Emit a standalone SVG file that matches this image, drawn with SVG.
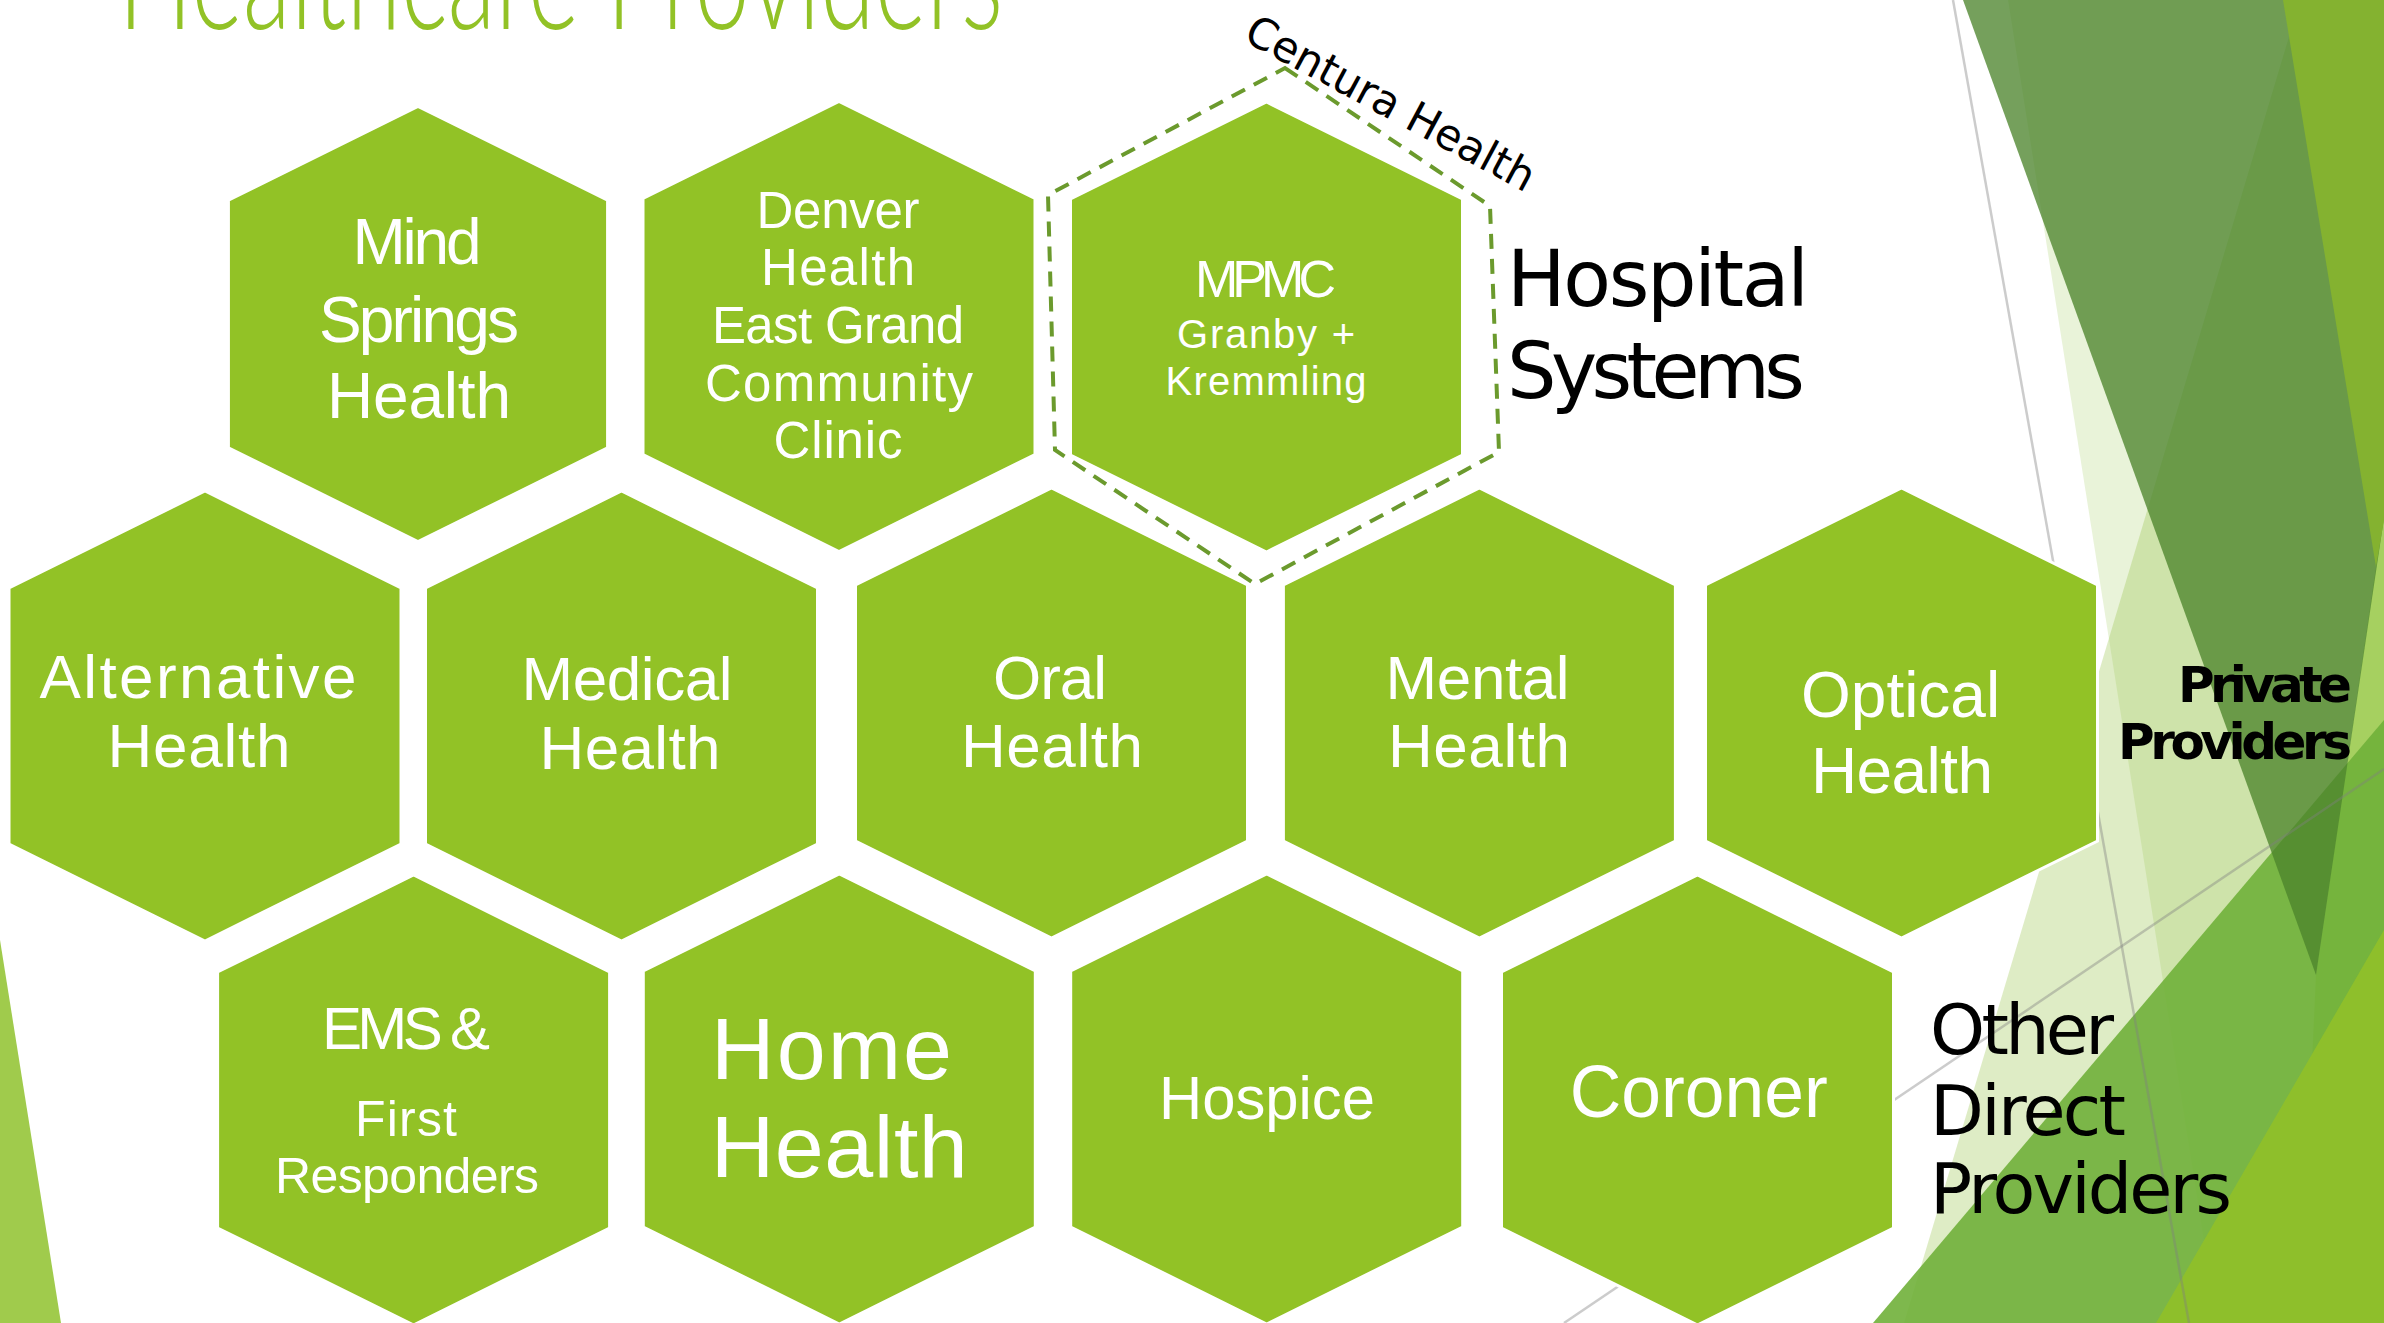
<svg xmlns="http://www.w3.org/2000/svg" xmlns:xlink="http://www.w3.org/1999/xlink" width="2384" height="1323" viewBox="0 0 2384 1323">
<style>
.hex{fill:#92C226;stroke:#ffffff;stroke-width:3}
.ht{fill:#ffffff;font-family:"Liberation Sans",Arial,sans-serif;text-anchor:middle}
.lbl{fill:#000000;font-family:"DejaVu Sans","Liberation Sans",sans-serif}
.gl{stroke:#808080;stroke-opacity:0.4;stroke-width:2.5;fill:none}
</style>
<defs>
<polygon id="hx" points="0,-225 196,-128 196,128 0,225 -196,128 -196,-128"/>
</defs>
<rect width="2384" height="1323" fill="#ffffff"/>
<g id="background">
<polygon points="0,940 61,1323 0,1323" fill="#A0CB4C"/>
<polygon points="2008,0 2384,0 2384,1323 2217,1323" fill="#93C13F" fill-opacity="0.2"/>
<polygon points="2300,0 2384,0 2384,1323 1904,1323" fill="#93C13F" fill-opacity="0.3"/>
<polygon points="2376,567 2400,400 2400,1323 2300,1323 2316,975" fill="#9CCB4E" fill-opacity="0.8"/>
<polygon points="1873,1323 2384,720 2384,1323" fill="#70B03A" fill-opacity="0.9"/>
<polygon points="2156,1323 2384,930 2384,1323" fill="#8FC02A" fill-opacity="0.95"/>
<polygon points="1963,0 2461,0 2316,975" fill="#4B842B" fill-opacity="0.77"/>
<polygon points="2283,0 2384,0 2384,520 2376,567" fill="#84B230"/>
<line class="gl" x1="1953" y1="0" x2="2189" y2="1323"/>
<line class="gl" x1="1564" y1="1323" x2="2384" y2="769"/>
</g>
<text x="118" y="29" textLength="885" lengthAdjust="spacingAndGlyphs" font-family="Lato,'Liberation Sans',sans-serif" font-weight="300" font-size="150" fill="#92C226">Healthcare Providers</text>
<g id="connectors">
<polygon points="1285,68 1490,206 1499,452 1255,584 1055,450 1048,195" fill="none" stroke="#6B9A2D" stroke-width="4" stroke-dasharray="15 10"/>
</g>
<g id="node-mind-springs">
<use xlink:href="#hx" class="hex" transform="translate(418,324) scale(0.967)"/>
<text class="ht" font-size="64" lengthAdjust="spacingAndGlyphs"><tspan x="417" y="264" textLength="129">Mind</tspan><tspan x="419" y="341.7" textLength="200">Springs</tspan><tspan x="419" y="418.3" textLength="184">Health</tspan></text>
</g>
<g id="node-denver-health">
<use xlink:href="#hx" class="hex" transform="translate(839,326.5)"/>
<text class="ht" font-size="51" lengthAdjust="spacingAndGlyphs"><tspan x="838" y="228.3" textLength="163">Denver</tspan><tspan x="838" y="285" textLength="154">Health</tspan><tspan x="838" y="343.3" textLength="252">East Grand</tspan><tspan x="839" y="400.7" textLength="268">Community</tspan><tspan x="838" y="458.3" textLength="129">Clinic</tspan></text>
</g>
<g id="node-mpmc">
<use xlink:href="#hx" class="hex" transform="translate(1266.5,327)"/>
<text class="ht" lengthAdjust="spacingAndGlyphs"><tspan x="1265.5" y="297.4" font-size="52" textLength="141">MPMC</tspan><tspan x="1266" y="348.3" font-size="40" textLength="178">Granby +</tspan><tspan x="1266" y="395.3" font-size="40" textLength="201">Kremmling</tspan></text>
</g>
<text class="lbl" font-size="43" transform="translate(1242,40) rotate(28.3)" textLength="322" lengthAdjust="spacingAndGlyphs">Centura Health</text>
<g id="label-hospital-systems">
<text class="lbl" font-size="78" lengthAdjust="spacingAndGlyphs"><tspan x="1507" y="306" textLength="302">Hospital</tspan><tspan x="1507" y="398" textLength="298">Systems</tspan></text>
</g>
<g id="node-alternative-health">
<use xlink:href="#hx" class="hex" transform="translate(205,716)"/>
<text class="ht" font-size="62" lengthAdjust="spacingAndGlyphs"><tspan x="198" y="698.3" textLength="317">Alternative</tspan><tspan x="199" y="767.3" textLength="183">Health</tspan></text>
</g>
<g id="node-medical-health">
<use xlink:href="#hx" class="hex" transform="translate(621.5,716)"/>
<text class="ht" font-size="62" lengthAdjust="spacingAndGlyphs"><tspan x="627" y="700" textLength="211">Medical</tspan><tspan x="630" y="769" textLength="181">Health</tspan></text>
</g>
<g id="node-oral-health">
<use xlink:href="#hx" class="hex" transform="translate(1051.5,713)"/>
<text class="ht" font-size="62" lengthAdjust="spacingAndGlyphs"><tspan x="1050" y="699.3" textLength="114">Oral</tspan><tspan x="1052" y="767.3" textLength="182">Health</tspan></text>
</g>
<g id="node-mental-health">
<use xlink:href="#hx" class="hex" transform="translate(1479.4,713)"/>
<text class="ht" font-size="62" lengthAdjust="spacingAndGlyphs"><tspan x="1477.6" y="699.3" textLength="184">Mental</tspan><tspan x="1479" y="767.3" textLength="182">Health</tspan></text>
</g>
<g id="node-optical-health">
<use xlink:href="#hx" class="hex" transform="translate(1901.5,713)"/>
<text class="ht" font-size="64" lengthAdjust="spacingAndGlyphs"><tspan x="1900.6" y="716.7" textLength="199">Optical</tspan><tspan x="1902" y="793.3" textLength="182">Health</tspan></text>
</g>
<g id="label-private-providers">
<text class="lbl" font-size="50" font-weight="bold" lengthAdjust="spacingAndGlyphs"><tspan x="2178" y="702.4" textLength="174">Private</tspan><tspan x="2118" y="759" textLength="234">Providers</tspan></text>
</g>
<g id="node-ems">
<use xlink:href="#hx" class="hex" transform="translate(413.6,1100)"/>
<text class="ht" lengthAdjust="spacingAndGlyphs"><tspan x="406" y="1049.3" font-size="60" textLength="168">EMS &amp;</tspan><tspan x="406" y="1136" font-size="50" textLength="102">First</tspan><tspan x="407" y="1193.3" font-size="50" textLength="264">Responders</tspan></text>
</g>
<g id="node-home-health">
<use xlink:href="#hx" class="hex" transform="translate(839.3,1099)"/>
<text class="ht" font-size="88" lengthAdjust="spacingAndGlyphs"><tspan x="831.5" y="1079" textLength="241">Home</tspan><tspan x="839.3" y="1176.7" textLength="257">Health</tspan></text>
</g>
<g id="node-hospice">
<use xlink:href="#hx" class="hex" transform="translate(1266.7,1099)"/>
<text class="ht" font-size="62" x="1267" y="1119" textLength="216" lengthAdjust="spacingAndGlyphs">Hospice</text>
</g>
<g id="node-coroner">
<use xlink:href="#hx" class="hex" transform="translate(1697.5,1100)"/>
<text class="ht" font-size="74" x="1698.7" y="1116.7" textLength="258" lengthAdjust="spacingAndGlyphs">Coroner</text>
</g>
<g id="label-other-direct-providers">
<text class="lbl" font-size="70" lengthAdjust="spacingAndGlyphs"><tspan x="1930" y="1054" textLength="184">Other</tspan><tspan x="1930" y="1134.8" textLength="196">Direct</tspan><tspan x="1930" y="1213" textLength="302">Providers</tspan></text>
</g>
</svg>
